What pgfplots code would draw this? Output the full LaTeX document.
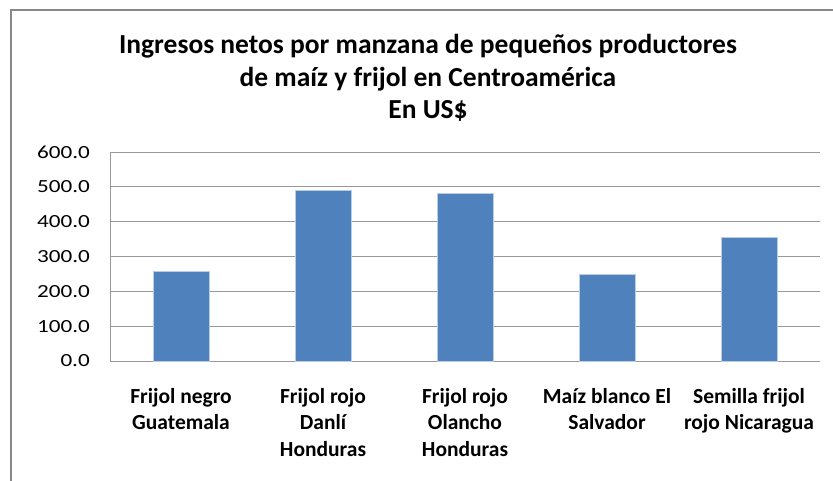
\documentclass[border=0pt]{standalone}
\usepackage{fontspec}
\setmainfont{Carlito}
\newfontfamily\tickfont[FakeStretch=1.25]{Carlito}
\usepackage{pgfplots}
\pgfplotsset{compat=1.18}

\definecolor{barblue}{HTML}{4F81BD}
\definecolor{baredge}{HTML}{B9CDE5}
\definecolor{gridgray}{HTML}{999999}
\definecolor{framegray}{HTML}{888888}

\begin{document}
\begin{tikzpicture}[x=1pt,y=1pt]
\useasboundingbox (0,0) rectangle (833,480);
\fill[white] (0,0) rectangle (833,480);
\draw[framegray, line width=2pt] (11,-5) -- (11,470) -- (840,470);

\node[font=\fontsize{27.5}{32.5}\selectfont\bfseries, align=center] at (428,402)
  {Ingresos netos por manzana de pequeños productores\\de maíz y frijol en Centroamérica\\En US\$};

\begin{axis}[
    at={(110pt,119pt)},
    anchor=south west,
    scale only axis,
    width=710pt,
    height=209pt,
    xmin=-0.5, xmax=4.5,
    ymin=0, ymax=600,
    ytick={0,100,...,600},
    xtick=data,
    xticklabels={{Frijol negro\\Guatemala},{Frijol rojo\\Danlí\\Honduras},{Frijol rojo\\Olancho\\Honduras},{Maíz blanco El\\Salvador},{Semilla frijol\\rojo Nicaragua}},
    ymajorgrids,
    grid style={gridgray, line width=1pt},
    axis x line*=bottom,
    axis y line*=left,
    axis line style={gridgray, line width=1pt, -},
    major tick length=0pt,
    tick style={draw=none},
    yticklabel style={font=\tickfont\fontsize{18.5}{20}\selectfont, anchor=east, inner sep=0pt, xshift=-20pt},
    xticklabel style={font=\fontsize{21.5}{26.5}\selectfont\bfseries, align=center, anchor=north, inner sep=0pt, yshift=-27pt},
    /pgf/number format/fixed,
    /pgf/number format/fixed zerofill,
    /pgf/number format/precision=1,
    /pgf/number format/1000 sep={},
    /pgf/number format/assume math mode=true,
    ybar,
    bar width=56pt,
    clip=false,
]
\addplot[fill=barblue, draw=baredge, line width=0.8pt] coordinates {
    (0,257) (1,489) (2,480) (3,248) (4,354)
};
\end{axis}
\end{tikzpicture}
\end{document}
